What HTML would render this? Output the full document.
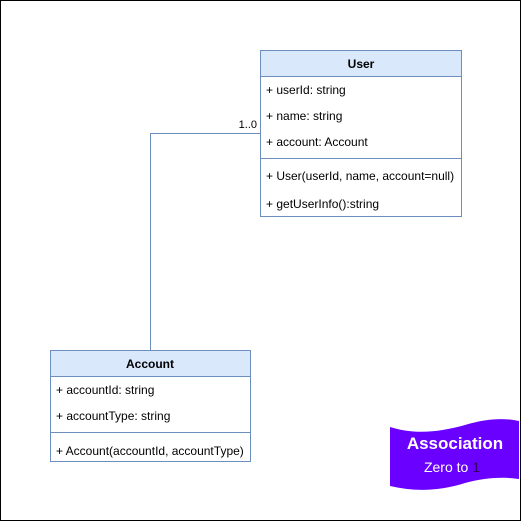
<!DOCTYPE html>
<html><head><style>
body{margin:0;background:#fff;}
svg text{font-family:"Liberation Sans",Arial,sans-serif;}
</style></head><body>
<svg width="521" height="521" viewBox="0 0 521 521" xmlns="http://www.w3.org/2000/svg">
<rect x="0.5" y="0.5" width="520" height="520" fill="#fff" stroke="#000"/>
<polyline points="260,133.5 150.5,133.5 150.5,350" fill="none" stroke="#6c8ebf" stroke-width="1"/>
<text x="257" y="128" font-size="11" text-anchor="end" fill="#000">1..0</text>
<rect x="260.5" y="50.5" width="201" height="166" fill="#fff" stroke="#6c8ebf"/>
<rect x="260.5" y="50.5" width="201" height="26" fill="#dae8fc" stroke="#6c8ebf"/>
<text x="361" y="68" font-size="12" font-weight="bold" text-anchor="middle">User</text>
<text x="266" y="94" font-size="12">+ userId: string</text>
<text x="266" y="120" font-size="12">+ name: string</text>
<text x="266" y="146" font-size="12">+ account: Account</text>
<line x1="260" y1="158.5" x2="461" y2="158.5" stroke="#6c8ebf"/>
<text x="266" y="180" font-size="12">+ User(userId, name, account=null)</text>
<text x="266" y="208" font-size="12">+ getUserInfo():string</text>
<rect x="50.5" y="350.5" width="200" height="111" fill="#fff" stroke="#6c8ebf"/>
<rect x="50.5" y="350.5" width="200" height="26" fill="#dae8fc" stroke="#6c8ebf"/>
<text x="150" y="368" font-size="12" font-weight="bold" text-anchor="middle">Account</text>
<text x="56" y="394" font-size="12">+ accountId: string</text>
<text x="56" y="420" font-size="12">+ accountType: string</text>
<line x1="50" y1="432.5" x2="250" y2="432.5" stroke="#6c8ebf"/>
<text x="56" y="455" font-size="12">+ Account(accountId, accountType)</text>
<path d="M390,427 C415,435 440,432 465,425 C488,418 505,418 519,421 L519,479 C505,477 488,477 465,483 C440,491 415,492 390,486 Z" fill="#6a00ff"/>
<text x="455" y="449" font-size="17" font-weight="bold" fill="#fff" text-anchor="middle">Association</text>
<text x="452" y="472" font-size="14" fill="#fff" text-anchor="middle">Zero to <tspan fill="#330066">1</tspan></text>
</svg>
</body></html>
